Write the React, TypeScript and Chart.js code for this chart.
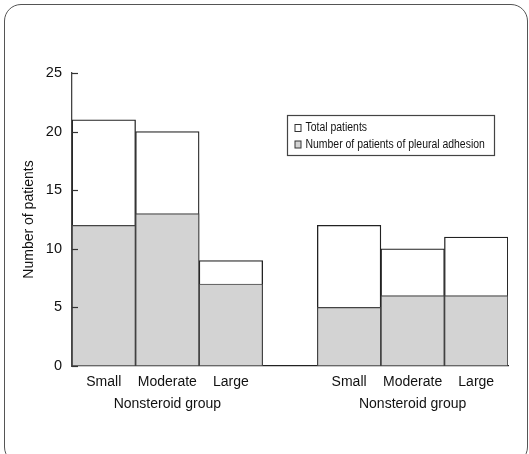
import React, { useEffect, useRef } from "react";
import { Chart, registerables } from "chart.js";

Chart.register(...registerables);

const categories = ["Small", "Moderate", "Large", "Small", "Moderate", "Large"];
const groupLabels = ["Nonsteroid group", "Nonsteroid group"];
const totalPatients = [21, 20, 9, 12, 10, 11];
const adhesionPatients = [12, 13, 7, 5, 6, 6];
const yTicks = [0, 5, 10, 15, 20, 25];
const seriesLabels = ["Total patients", "Number of patients of pleural adhesion"];

const GAP = 0.86; // gap between the two groups, in bar widths
const GROUP_SIZE = 3;
const xPos = (i: number) => i + 0.5 + (i >= GROUP_SIZE ? GAP : 0);
const xMax = categories.length + GAP;

const FONT = "'Liberation Sans', Arial, Helvetica, sans-serif";
const GRAY = "#d3d3d3";
const TEXT = "#111";

const innerTicks = {
  id: "innerTicks",
  afterDatasetsDraw(chart: any) {
    const { ctx, chartArea, scales } = chart;
    ctx.save();
    ctx.strokeStyle = "#333";
    ctx.lineWidth = 1.2;
    yTicks.forEach((v) => {
      const y = Math.round(scales.y.getPixelForValue(v)) + 0.5;
      ctx.beginPath();
      ctx.moveTo(chartArea.left, y);
      ctx.lineTo(chartArea.left + 6, y);
      ctx.stroke();
    });
    ctx.restore();
  },
};

const boxLegend = {
  id: "boxLegend",
  afterDraw(chart: any) {
    const { ctx, chartArea } = chart;
    const x = chartArea.right - 220.5;
    const y = chartArea.top + 42.5;
    const w = 207;
    const h = 40;
    ctx.save();
    ctx.fillStyle = "#fff";
    ctx.fillRect(x, y, w, h);
    ctx.strokeStyle = "#444";
    ctx.lineWidth = 1.2;
    ctx.strokeRect(x, y, w, h);
    ctx.font = `12px ${FONT}`;
    ctx.textBaseline = "middle";
    const fills = ["#fff", GRAY];
    seriesLabels.forEach((t, i) => {
      const cy = y + 12.5 + i * 16.5;
      ctx.fillStyle = fills[i];
      ctx.fillRect(x + 7.5, cy - 3.5, 6, 7);
      ctx.strokeStyle = "#333";
      ctx.lineWidth = 1;
      ctx.strokeRect(x + 7.5, cy - 3.5, 6, 7);
      ctx.fillStyle = TEXT;
      ctx.save();
      ctx.translate(x + 18, cy);
      ctx.scale(0.87, 1);
      ctx.fillText(t, 0, 0);
      ctx.restore();
    });
    ctx.restore();
  },
};

export default function App() {
  const ref = useRef<HTMLCanvasElement>(null);
  useEffect(() => {
    if (!ref.current) return;
    const chart = new Chart(ref.current, {
      type: "bar",
      data: {
        datasets: [
          {
            label: seriesLabels[1],
            data: adhesionPatients.map((v, i) => ({ x: xPos(i), y: v })),
            backgroundColor: GRAY,
            borderColor: "#444",
            borderWidth: 1.2,
            borderSkipped: false,
            order: 0,
          },
          {
            label: seriesLabels[0],
            data: totalPatients.map((v, i) => ({ x: xPos(i), y: v })),
            backgroundColor: "#fff",
            borderColor: "#222",
            borderWidth: 1.3,
            borderSkipped: false,
            order: 1,
          },
        ],
      },
      options: {
        animation: false,
        responsive: false,
        devicePixelRatio: 1,
        datasets: {
          bar: { grouped: false, barPercentage: 1, categoryPercentage: 1 },
        },
        layout: { padding: { left: 0, right: 21, top: 73, bottom: 0 } },
        plugins: { legend: { display: false }, tooltip: { enabled: false } },
        scales: {
          x: {
            type: "linear",
            min: 0,
            max: xMax,
            offset: false,
            grid: { display: false, offset: false, drawTicks: false },
            border: { display: true, color: "#222", width: 1.3 },
            afterBuildTicks: (scale: any) => {
              scale.ticks = categories.map((_, i) => ({ value: xPos(i) }));
            },
            afterFit: (scale: any) => {
              scale.height = 88;
            },
            ticks: {
              autoSkip: false,
              maxRotation: 0,
              padding: 5,
              color: TEXT,
              font: { family: FONT, size: 14, lineHeight: 1.58 },
              callback: (_v: any, i: number) => {
                if (i % GROUP_SIZE === 1) {
                  return [categories[i], groupLabels[Math.floor(i / GROUP_SIZE)]];
                }
                return categories[i];
              },
            },
          },
          y: {
            min: 0,
            max: 25,
            grid: { display: false, drawTicks: false },
            border: { display: true, color: "#444", width: 1.3 },
            afterBuildTicks: (scale: any) => {
              scale.ticks = yTicks.map((v) => ({ value: v }));
            },
            afterFit: (scale: any) => {
              scale.width = 72;
            },
            ticks: {
              padding: 10,
              color: TEXT,
              font: { family: FONT, size: 14.5 },
            },
            title: {
              display: true,
              text: "Number of patients",
              color: TEXT,
              font: { family: FONT, size: 14 },
              padding: { top: 21, bottom: 0 },
            },
          },
        },
      },
      plugins: [innerTicks, boxLegend],
    });
    return () => chart.destroy();
  }, []);

  return (
    <div style={{ position: "fixed", left: 0, top: 0, width: 529, height: 454, overflow: "hidden", background: "#fff" }}>
      <div
        style={{
          position: "absolute",
          left: 4,
          top: 4,
          width: 522,
          height: 458,
          border: "1.3px solid #555",
          borderRadius: 17,
        }}
      />
      <canvas ref={ref} width={529} height={454} style={{ position: "absolute", left: 0, top: 0 }} />
    </div>
  );
}
